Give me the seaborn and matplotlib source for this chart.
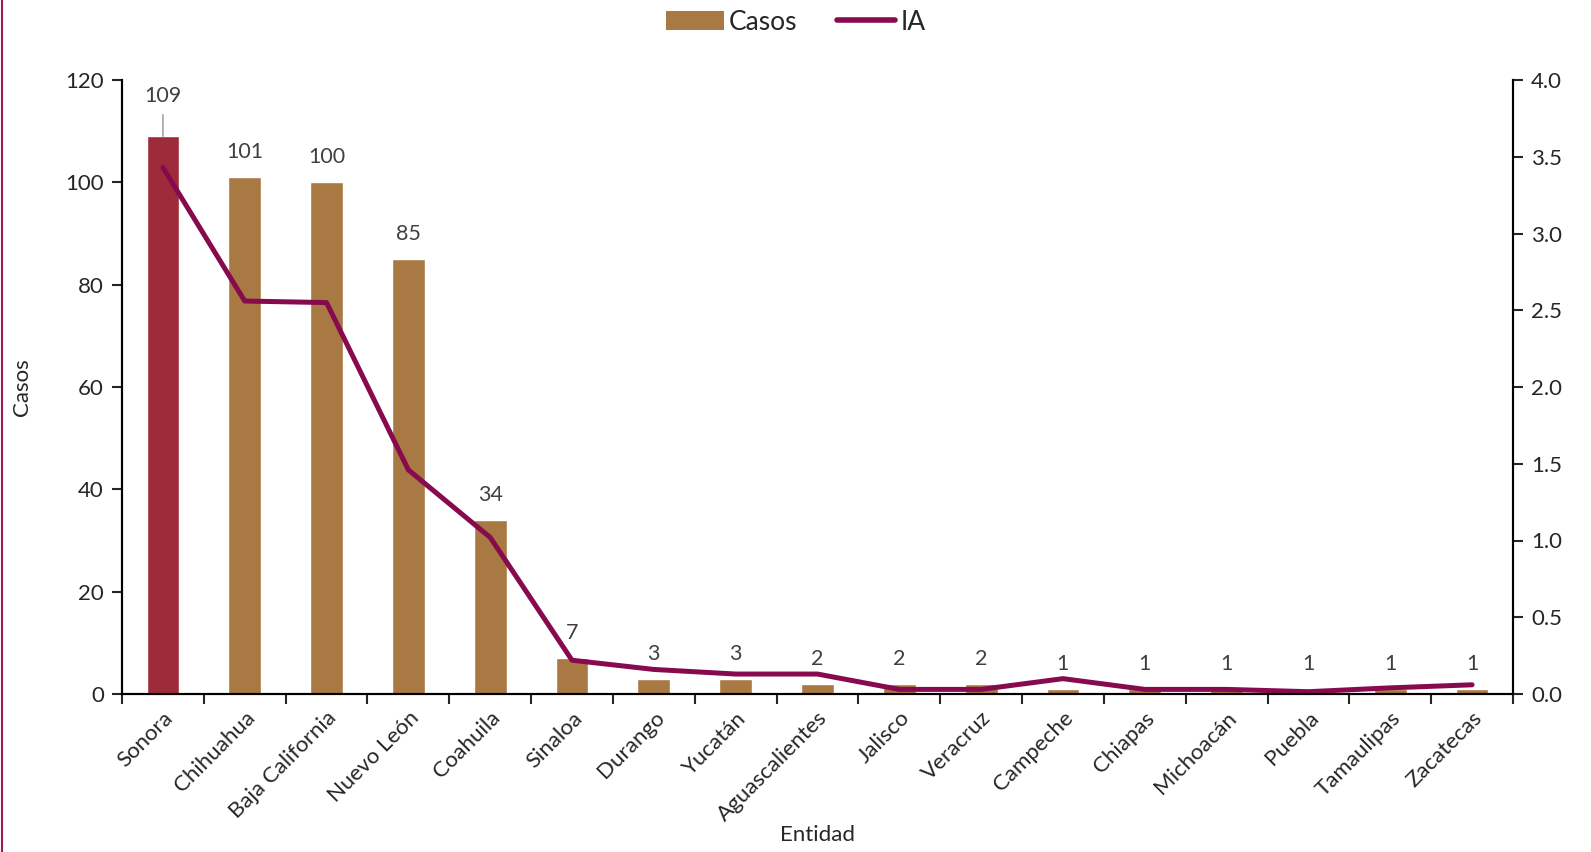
import numpy as np
import pandas as pd
import seaborn as sns
import matplotlib.pyplot as plt
from matplotlib.patches import Patch
from matplotlib.lines import Line2D
from matplotlib.ticker import FormatStrFormatter, FixedLocator

entidades = ['Sonora', 'Chihuahua', 'Baja California', 'Nuevo León', 'Coahuila',
             'Sinaloa', 'Durango', 'Yucatán', 'Aguascalientes', 'Jalisco',
             'Veracruz', 'Campeche', 'Chiapas', 'Michoacán', 'Puebla',
             'Tamaulipas', 'Zacatecas']
casos = [109, 101, 100, 85, 34, 7, 3, 3, 2, 2, 2, 1, 1, 1, 1, 1, 1]
ia = [3.43, 2.56, 2.55, 1.46, 1.02, 0.22, 0.16, 0.13, 0.13, 0.03,
      0.03, 0.10, 0.03, 0.03, 0.015, 0.04, 0.06]

c_bar = '#A87943'
c_top = '#9E2B3A'
c_line = '#870A4F'

sns.set_style('white')
plt.rcParams['font.family'] = ['Lato', 'DejaVu Sans']

df = pd.DataFrame({'Entidad': entidades, 'Casos': casos, 'IA': ia})
colores = [c_top] + [c_bar] * (len(entidades) - 1)

fig = plt.figure(figsize=(15.91, 8.52), dpi=100)
ax = fig.add_axes([122 / 1591, 1 - 694 / 852, (1513 - 122) / 1591, (694 - 80) / 852])

sns.barplot(data=df, x='Entidad', y='Casos', hue='Entidad', palette=colores,
            width=0.4, legend=False, ax=ax, saturation=1)
ax.set_ylim(0, 120)
ax.set_xlim(-0.5, len(entidades) - 0.5)
ax.set_yticks(range(0, 121, 20))

for i, v in enumerate(casos):
    if i == 0:
        # etiqueta con linea guia
        ax.annotate(str(v), xy=(i, v), xytext=(0, 29), textcoords='offset points',
                    ha='center', va='center', fontsize=15.5, color='#404040',
                    arrowprops=dict(arrowstyle='-', color='#A6A6A6', lw=1.2,
                                    shrinkA=4, shrinkB=0))
    else:
        ax.annotate(str(v), xy=(i, v), xytext=(0, 18), textcoords='offset points',
                    ha='center', va='center', fontsize=15.5, color='#404040')

ax2 = ax.twinx()
sns.lineplot(x=np.arange(len(entidades)), y=df['IA'], color=c_line, lw=3.6,
             ax=ax2, solid_capstyle='round')
ax2.set_ylim(0, 4.0)
ax2.set_yticks(np.arange(0, 4.01, 0.5))
ax2.yaxis.set_major_formatter(FormatStrFormatter('%.1f'))
ax2.set_ylabel('')

for a in (ax, ax2):
    a.spines['top'].set_visible(False)
    for s in ('left', 'right', 'bottom'):
        a.spines[s].set_color('black')
        a.spines[s].set_linewidth(1.5)

ax.tick_params(axis='y', which='major', direction='out', length=7, width=1.5,
               labelsize=16, left=True, pad=6)
ax2.tick_params(axis='y', which='major', direction='out', length=7, width=1.5,
                labelsize=16, right=True, pad=6)
ax.tick_params(axis='x', which='major', length=0, labelsize=16, pad=10)
ax.xaxis.set_minor_locator(FixedLocator(np.arange(-0.5, len(entidades), 1)))
ax.tick_params(axis='x', which='minor', direction='out', length=7, width=1.5, bottom=True)
ax.set_xticks(range(len(entidades)))
ax.set_xticklabels(entidades, rotation=45, ha='right', rotation_mode='anchor')

ax.set_xlabel('Entidad', fontsize=16, labelpad=0)
ax.set_ylabel('Casos', fontsize=16)
ax.yaxis.set_label_coords(-0.065, 0.5)

handles = [Patch(facecolor=c_bar, edgecolor='none'),
           Line2D([0], [0], color=c_line, lw=4, solid_capstyle='round')]
fig.legend(handles, ['Casos', 'IA'], loc='center', bbox_to_anchor=(0.5, 1 - 22 / 852),
           ncol=2, frameon=False, fontsize=19, handlelength=2.2, handletextpad=0.2,
           columnspacing=1.5)

fig.add_artist(Line2D([0.0012, 0.0012], [0, 1], color='#9B1B5A', lw=1.5,
                      transform=fig.transFigure))

fig.savefig('out.png', dpi=100)
